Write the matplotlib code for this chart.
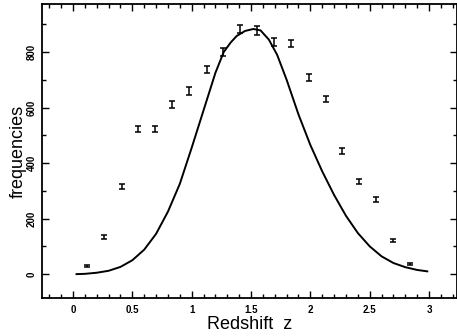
import numpy as np
import matplotlib
matplotlib.use("Agg")
import matplotlib.pyplot as plt
from matplotlib.ticker import MultipleLocator

# measured redshift histogram (bin centres, counts, errors)
z_bins = [0.12, 0.26, 0.41, 0.545, 0.69, 0.835, 0.98, 1.125, 1.265, 1.41,
          1.553, 1.695, 1.84, 1.99, 2.13, 2.27, 2.41, 2.555, 2.70, 2.84]
counts = [30, 134, 317, 524, 524, 612, 660, 737, 801, 883,
          877, 837, 831, 709, 631, 443, 333, 268, 122, 37]
errors = [3, 6, 9, 11, 11, 12, 13, 14, 14, 15,
          15, 14, 14, 13, 12, 10, 9, 8, 5, 3]

# model curve
z_model = [0.03, 0.1, 0.2, 0.3, 0.4, 0.5, 0.6, 0.7, 0.8, 0.9, 1.0, 1.1, 1.2,
           1.27, 1.33, 1.38, 1.45, 1.52, 1.58, 1.65, 1.72, 1.8, 1.9, 2.0,
           2.1, 2.2, 2.3, 2.4, 2.5, 2.6, 2.7, 2.8, 2.9, 2.985]
f_model = [0, 1, 5, 12, 26, 50, 88, 145, 225, 325, 455, 590, 725,
           800, 835, 858, 876, 883, 878, 845, 790, 700, 575, 465,
           370, 285, 210, 148, 100, 64, 40, 25, 15, 10]

fig = plt.figure(figsize=(4.57, 3.36), dpi=100)
ax = fig.add_axes([0.0919, 0.1131, 0.908, 0.875])

ax.plot(z_model, f_model, color="black", lw=1.4)
ax.errorbar(z_bins, counts, yerr=errors, fmt="none", ecolor="black",
            elinewidth=1.1, capsize=2.3, capthick=1.1)

ax.set_xlim(-0.261, 3.235)
ax.set_ylim(-86, 973)
ax.xaxis.set_major_locator(MultipleLocator(0.5))
ax.xaxis.set_minor_locator(MultipleLocator(0.1))
ax.yaxis.set_major_locator(MultipleLocator(200))
ax.yaxis.set_minor_locator(MultipleLocator(100))
ax.set_xticks([0, 0.5, 1, 1.5, 2, 2.5, 3])
ax.set_xticklabels(["0", "0.5", "1", "1.5", "2", "2.5", "3"])
ax.set_yticks([0, 200, 400, 600, 800])

ax.tick_params(which="both", direction="in", top=True, right=True, width=1.0)
ax.tick_params(which="major", length=5)
ax.tick_params(which="minor", length=3)
ax.tick_params(axis="x", pad=5)
ax.tick_params(axis="y", pad=4)
for lab in ax.get_xticklabels() + ax.get_yticklabels():
    lab.set_family("Liberation Sans")
    lab.set_fontweight("bold")
    lab.set_fontsize(7)
for lab in ax.get_yticklabels():
    lab.set_rotation(90)
    lab.set_va("center")

for s in ax.spines.values():
    s.set_linewidth(1.3)

ax.set_xlabel("Redshift  z", family="Liberation Sans", fontsize=13, labelpad=1)
ax.set_ylabel("frequencies", family="Liberation Sans", fontsize=13, labelpad=0)

fig.savefig("out.png", dpi=100)
